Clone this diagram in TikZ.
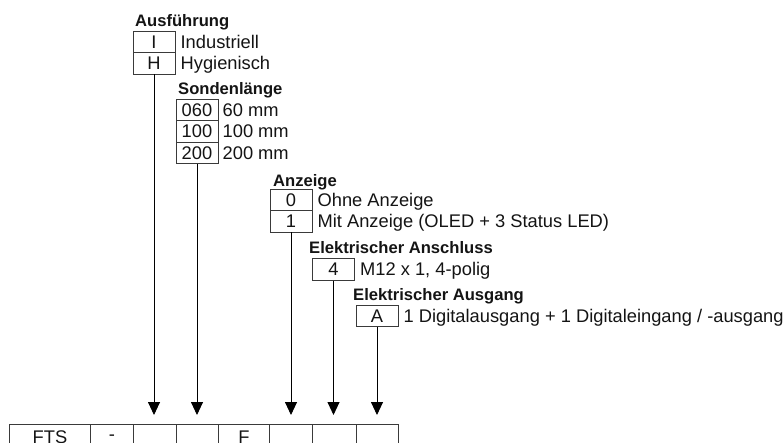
\documentclass[tikz,border=0pt]{standalone}
\usepackage{fontspec}
\setmainfont{Liberation Sans}
\usetikzlibrary{arrows.meta}
\definecolor{boxline}{HTML}{3A3A3A}
\definecolor{textdark}{HTML}{141414}
\newcommand\codefont{\fontsize{18.3pt}{21pt}\selectfont}
\newcommand\titlefont{\fontsize{16.6pt}{20pt}\selectfont\bfseries}
\tikzset{
  codebox/.style={draw=boxline, line width=0.9pt, minimum width=42pt, minimum height=21.5pt, inner sep=0pt, text=textdark},
  cell/.style={draw=boxline, line width=0.9pt, minimum height=26pt, inner sep=0pt, anchor=north west, text=textdark},
  grouptitle/.style={anchor=base west, inner sep=0pt, font=\titlefont, text=textdark},
  option/.style={anchor=west, inner sep=0pt, text height=13pt, text depth=0pt, text=textdark},
  pointer/.style={-{Triangle[width=12pt,length=13pt]}, line width=0.9pt, shorten >=9pt},
}
\begin{document}
\begin{tikzpicture}[x=1pt, y=-1pt, font=\codefont]
  \useasboundingbox (0,0) rectangle (784,443);

  \node[grouptitle] (ausftitle) at (135,27) {Ausführung};
  \node[codebox] (ausfI) at (154,41.75) {I};
  \node[codebox] (ausfH) at (154,63.25) {H};
  \node[option] (ausfItxt) at ([xshift=5pt]ausfI.east) {Industriell};
  \node[option] (ausfHtxt) at ([xshift=5pt]ausfH.east) {Hygienisch};

  \node[grouptitle] (sondtitle) at (178,94.5) {Sondenlänge};
  \node[codebox] (sond060) at (197,109.75) {060};
  \node[codebox] (sond100) at (197,131.25) {100};
  \node[codebox] (sond200) at (197,152.75) {200};
  \node[option] (sond060txt) at ([xshift=4pt]sond060.east) {60 mm};
  \node[option] (sond100txt) at ([xshift=4pt]sond100.east) {100 mm};
  \node[option] (sond200txt) at ([xshift=4pt]sond200.east) {200 mm};

  \node[grouptitle] (anztitle) at (273,186.5) {Anzeige};
  \node[codebox] (anz0) at (291,199.75) {0};
  \node[codebox] (anz1) at (291,221.25) {1};
  \node[option] (anz0txt) at ([xshift=5pt]anz0.east) {Ohne Anzeige};
  \node[option] (anz1txt) at ([xshift=5pt]anz1.east) {Mit Anzeige (OLED + 3 Status LED)};

  \node[grouptitle] (anschtitle) at (309,254) {Elektrischer Anschluss};
  \node[codebox] (ansch4) at (333.5,269.5) {4};
  \node[option] (ansch4txt) at ([xshift=5pt]ansch4.east) {M12 x 1, 4-polig};

  \node[grouptitle] (ausgtitle) at (353,300.5) {Elektrischer Ausgang};
  \node[codebox] (ausgA) at (377,315.75) {A};
  \node[option] (ausgAtxt) at ([xshift=5pt]ausgA.east) {1 Digitalausgang + 1 Digitaleingang / -ausgang};

  \node[cell, minimum width=81pt] (c1) at (9,424) {FTS};
  \node[cell, minimum width=43pt] (c2) at (90,424) {-};
  \node[cell, minimum width=43pt] (c3) at (133,424) {};
  \node[cell, minimum width=42pt] (c4) at (176,424) {};
  \node[cell, minimum width=51pt] (c5) at (218,424) {F};
  \node[cell, minimum width=43pt] (c6) at (269,424) {};
  \node[cell, minimum width=44pt] (c7) at (312,424) {};
  \node[cell, minimum width=42pt] (c8) at (356,424) {};

  \draw[pointer] (ausfH.south) -- (ausfH.south |- c3.north);
  \draw[pointer] (sond200.south) -- (sond200.south |- c4.north);
  \draw[pointer] (anz1.south) -- (anz1.south |- c6.north);
  \draw[pointer] (ansch4.south) -- (ansch4.south |- c7.north);
  \draw[pointer] (ausgA.south) -- (ausgA.south |- c8.north);
\end{tikzpicture}
\end{document}
